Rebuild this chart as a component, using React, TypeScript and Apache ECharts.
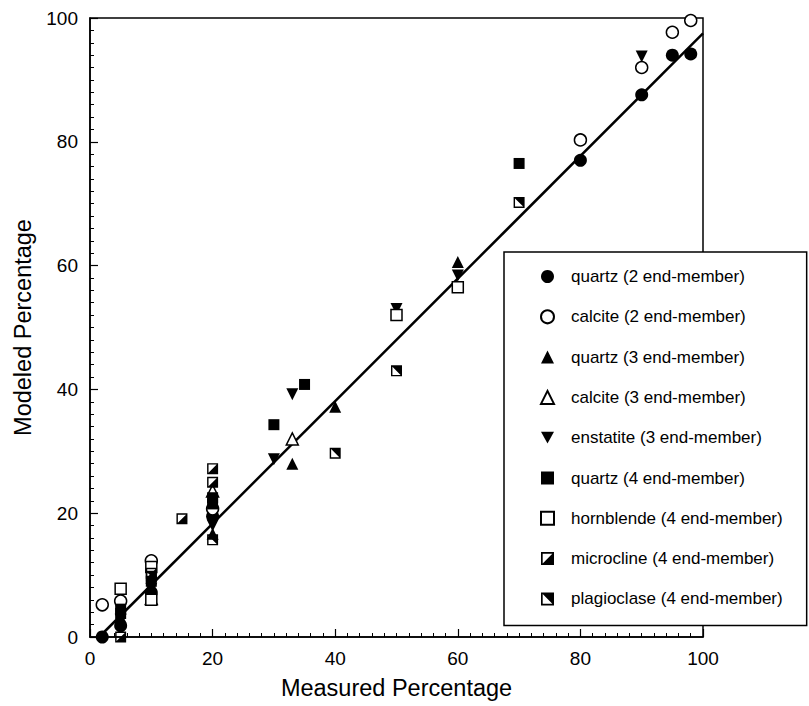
import React, { useEffect, useRef } from "react";
import * as echarts from "echarts";

// ---- data ----
const quartz2: number[][] = [[2, 0], [5, 1.8], [10, 7.2], [20, 19.5], [80, 77], [90, 87.6], [95, 94], [98, 94.2]];
const calcite2: number[][] = [[2, 5.2], [5, 5.8], [10, 12.3], [20, 20.7], [80, 80.3], [90, 92], [95, 97.7], [98, 99.6]];
const quartz3: number[][] = [[5, 3.2], [10, 8.3], [20, 16.7], [33, 28], [40, 37.2], [60, 60.6]];
const calcite3: number[][] = [[10, 6.2], [20, 23.6], [33, 32]];
const enstatite3: number[][] = [[5, 2.8], [10, 7.8], [20, 18], [30, 28.7], [33, 39.2], [50, 53], [60, 58.4], [90, 93.8]];
const quartz4: number[][] = [[5, 4.5], [5, 3.8], [10, 9], [20, 22.5], [20, 21.5], [30, 34.3], [35, 40.8], [70, 76.5]];
const hornblende4: number[][] = [[5, 7.8], [10, 11.3], [10, 6.0], [50, 52], [60, 56.5]];
const microcline4: number[][] = [[5, 0], [10, 10.3], [15, 19.1], [20, 27.2], [20, 25]];
const plagioclase4: number[][] = [[10, 9.8], [20, 15.7], [40, 29.7], [50, 43], [70, 70.2]];
const fitLine: number[][] = [[1.5, 0], [100, 97.5]];

const seriesNames = [
  "quartz (2 end-member)",
  "calcite (2 end-member)",
  "quartz (3 end-member)",
  "calcite (3 end-member)",
  "enstatite (3 end-member)",
  "quartz (4 end-member)",
  "hornblende (4 end-member)",
  "microcline (4 end-member)",
  "plagioclase (4 end-member)",
];
const xTicks = { min: 0, max: 100, interval: 20 };
const yTicks = { min: 0, max: 100, interval: 20 };

const FONT = "'Liberation Sans', Arial, Helvetica, sans-serif";

const MICRO =
  "path://M0 0L10 0L10 10L0 10Z M1.3 1.3L1.3 8.7L8.7 8.7L8.7 1.3Z M8.7 1.3L8.7 8.7L1.3 8.7Z";
const PLAG =
  "path://M0 0L10 0L10 10L0 10Z M1.3 1.3L1.3 8.7L8.7 8.7L8.7 1.3Z M1.3 1.3L8.7 1.3L8.7 8.7Z";
const DOWN_TRI = "path://M0 0L10 0L5 9Z";

const styles = [
  { data: quartz2, symbol: "circle", icon: "circle", size: 13, rotate: 0, fill: "#000", border: 0 },
  { data: calcite2, symbol: "circle", icon: "circle", size: 12, rotate: 0, fill: "#fff", border: 1.5 },
  { data: quartz3, symbol: "triangle", icon: "triangle", size: 12, rotate: 0, fill: "#000", border: 0 },
  { data: calcite3, symbol: "triangle", icon: "triangle", size: 12, rotate: 0, fill: "#fff", border: 1.5 },
  { data: enstatite3, symbol: "triangle", icon: DOWN_TRI, size: 12, rotate: 180, fill: "#000", border: 0 },
  { data: quartz4, symbol: "rect", icon: "rect", size: 11, rotate: 0, fill: "#000", border: 0 },
  { data: hornblende4, symbol: "rect", icon: "rect", size: 11, rotate: 0, fill: "#fff", border: 1.5 },
  { data: microcline4, symbol: MICRO, icon: MICRO, size: 11, rotate: 0, fill: "#000", border: 0 },
  { data: plagioclase4, symbol: PLAG, icon: PLAG, size: 11, rotate: 0, fill: "#000", border: 0 },
];

export default function App() {
  const ref = useRef<HTMLDivElement>(null);
  useEffect(() => {
    if (!ref.current) return;
    const chart = echarts.init(ref.current, null, { renderer: "svg" });
    const axisCommon = {
      type: "value" as const,
      axisLine: { show: true, lineStyle: { color: "#000", width: 1.5 } },
      axisTick: { show: true, inside: true, length: 8, lineStyle: { color: "#000", width: 1.2 } },
      minorTick: { show: true, splitNumber: 10, length: 4, lineStyle: { color: "#000", width: 1 } },
      splitLine: { show: false },
      axisLabel: { color: "#000", fontSize: 19, fontFamily: FONT, margin: 12 },
      nameTextStyle: { color: "#000", fontSize: 23.5, fontFamily: FONT },
      nameLocation: "middle" as const,
    };
    const scatterSeries = styles.map((s, i) => ({
      name: seriesNames[i],
      type: "scatter",
      data: s.data,
      symbol: s.symbol,
      symbolSize: s.size,
      symbolRotate: s.rotate,
      itemStyle: {
        color: s.fill,
        borderColor: "#000",
        borderWidth: s.border,
        opacity: 1,
      },
      z: 3,
    }));
    chart.setOption({
      animation: false,
      backgroundColor: "#fff",
      grid: {
        left: 90,
        top: 18,
        right: 106,
        bottom: 69,
        show: true,
        borderColor: "#000",
        borderWidth: 1.5,
        backgroundColor: "transparent",
      },
      xAxis: { ...axisCommon, ...xTicks, name: "Measured Percentage", nameGap: 39 },
      yAxis: { ...axisCommon, ...yTicks, name: "Modeled Percentage", nameGap: 50, nameRotate: 90 },
      legend: {
        orient: "vertical",
        left: 504,
        top: 252,
        itemWidth: 13,
        itemHeight: 13,
        itemGap: 23.3,
        padding: [16, 24, 18, 36],
        backgroundColor: "#fff",
        borderColor: "#000",
        borderWidth: 1.5,
        selectedMode: false,
        textStyle: { color: "#000", fontSize: 17, fontFamily: FONT, padding: [0, 0, 0, 12], lineHeight: 14 },
        data: seriesNames.map((n, i) => ({ name: n, icon: styles[i].icon })),
      },
      series: [
        ...scatterSeries,
        {
          name: "fit",
          type: "line",
          data: fitLine,
          symbol: "none",
          lineStyle: { color: "#000", width: 2.5 },
          z: 2,
          silent: true,
        },
      ],
    });
    return () => chart.dispose();
  }, []);
  return (
    <div
      ref={ref}
      style={{ position: "fixed", left: 0, top: 0, width: 809, height: 706, background: "#fff" }}
    />
  );
}
